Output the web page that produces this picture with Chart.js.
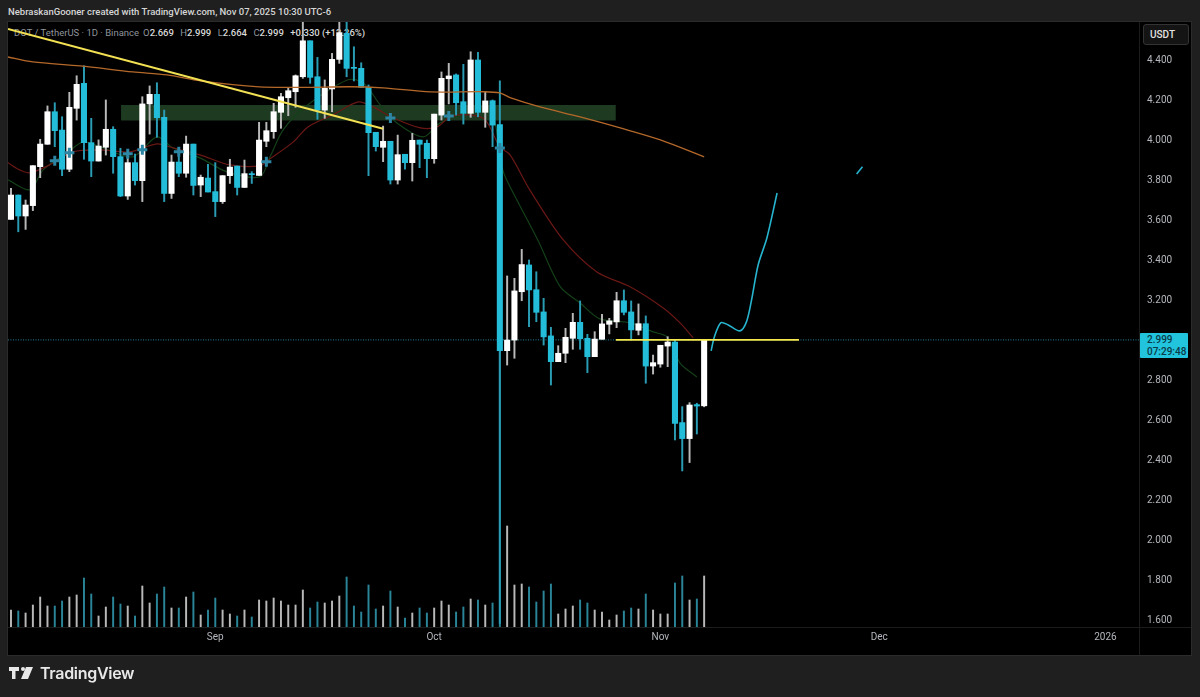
<!DOCTYPE html>
<html>
<head>
<meta charset="utf-8">
<title>DOT / TetherUS</title>
<script src="https://cdn.jsdelivr.net/npm/chart.js@4/dist/chart.umd.min.js"></script>
<style>
  html, body { margin: 0; padding: 0; background: #1f1f1f; width: 1200px; height: 697px; overflow: hidden; }
  body { position: relative; font-family: Roboto, sans-serif; }
  #frame { position: absolute; left: 8px; top: 22px; width: 1183px; height: 633px; background: #000; outline: 1px solid #2b2b2b; }
  #vline { position: absolute; left: 1139px; top: 22px; width: 1px; height: 633px; background: #1c1c1c; }
  #hline { position: absolute; left: 8px; top: 627px; width: 1183px; height: 1px; background: #1c1c1c; }
  #header { position: absolute; left: 8px; top: 3px; font-size: 9.5px; line-height: 18px; font-weight: 500; color: #d6d6d6; white-space: nowrap; }
  #legend { position: absolute; left: 14px; top: 25px; font-size: 9.5px; line-height: 16px; color: #8f949c; white-space: nowrap; }
  #legend b { color: #d8d8d8; font-weight: 500; }
  #legend span { margin-left: 4px; }
  canvas { position: absolute; left: 0; top: 0; }
  #usdt { position: absolute; left: 1143px; top: 24px; width: 46px; height: 21px; box-sizing: border-box; border: 1px solid #333; border-radius: 3px; background: #141414; color: #e2e2e2; font-size: 10px; font-weight: 500; line-height: 19px; padding-left: 6px; }
  #tag { position: absolute; left: 1140px; top: 333px; width: 48px; height: 25px; background: #22c3dc; color: #0b3a48; font-size: 10px; line-height: 11.5px; padding: 1px 0 0 7px; box-sizing: border-box; font-weight: 500; border-radius: 1px; }
  #brand { position: absolute; left: 40px; top: 661px; font-size: 16px; line-height: 25px; font-weight: 600; color: #e8e8e8; font-family: Inter, sans-serif; letter-spacing: -0.3px; }
  #logo { position: absolute; left: 9px; top: 666px; }
</style>
</head>
<body>
<div id="header">NebraskanGooner created with TradingView.com, Nov 07, 2025 10:30 UTC-6</div>
<div id="frame"></div>
<div id="vline"></div>
<div id="hline"></div>
<div id="legend">DOT / TetherUS · 1D · Binance<span>O<b>2.669</b></span> <span>H<b>2.999</b></span> <span>L<b>2.664</b></span> <span>C<b>2.999</b></span> <span><b>+0.330 (+12.36%)</b></span></div>
<canvas id="chart" width="1200" height="697"></canvas>
<div id="usdt">USDT</div>
<div id="tag">2.999<br>07:29:48</div>
<svg id="logo" width="25" height="14" viewBox="0 0 25 14">
  <path d="M0 1h10v4H6.5v8H3V5H0z" fill="#e8e8e8"/>
  <circle cx="14" cy="3" r="2" fill="#e8e8e8"/>
  <path d="M17 1h7l-5 12h-7z" fill="#e8e8e8"/>
</svg>
<div id="brand">TradingView</div>
<script>
// day index 0 = Aug 4 2025, daily candles through Nov 7
const opens = [3.602,3.724,3.619,3.671,3.866,3.978,4.141,4.049,3.853,4.158,4.283,3.986,3.894,3.963,4.053,3.916,3.719,3.886,3.796,4.180,4.228,4.113,3.732,3.889,3.833,3.979,3.774,3.809,3.741,3.691,3.821,3.869,3.762,3.831,3.822,3.993,4.041,4.138,4.211,4.241,4.316,4.496,4.316,4.149,4.255,4.403,4.533,4.361,4.358,4.263,4.038,3.963,3.993,3.799,3.928,3.886,3.999,3.983,3.906,4.124,4.306,4.325,4.191,4.133,4.400,4.138,4.196,4.076,2.945,2.998,3.240,3.374,3.250,3.139,3.019,2.890,2.932,3.007,3.087,3.007,2.915,3.002,3.077,3.089,3.195,3.139,3.047,3.080,2.868,2.878,2.968,2.988,2.585,2.505,2.675,2.669];
const closes = [3.724,3.619,3.674,3.871,3.979,4.141,4.046,3.853,4.163,4.278,3.986,3.894,3.969,4.053,3.916,3.719,3.886,3.796,4.180,4.228,4.111,3.732,3.889,3.833,3.979,3.772,3.813,3.739,3.691,3.821,3.864,3.762,3.831,3.826,3.999,4.046,4.141,4.216,4.246,4.321,4.496,4.313,4.149,4.258,4.403,4.537,4.358,4.358,4.263,4.036,3.966,3.993,3.799,3.926,3.886,3.998,3.978,3.906,4.129,4.308,4.320,4.186,4.133,4.400,4.138,4.195,4.074,2.945,2.998,3.244,3.376,3.249,3.137,3.014,2.890,2.932,3.012,3.087,3.005,2.915,3.003,3.079,3.094,3.195,3.137,3.049,3.080,2.868,2.885,2.972,2.988,2.581,2.505,2.673,2.668,2.999];
const highs = [3.757,3.724,3.699,3.871,4.003,4.170,4.186,4.116,4.238,4.321,4.371,4.108,4.000,4.200,4.066,3.958,3.924,3.929,4.216,4.270,4.286,4.149,3.924,3.958,4.019,3.979,3.824,3.878,3.886,3.821,3.903,3.869,3.899,3.841,4.088,4.088,4.183,4.233,4.258,4.325,4.592,4.496,4.413,4.300,4.433,4.592,4.592,4.466,4.386,4.275,4.038,4.069,3.993,4.024,3.928,4.033,3.999,3.999,4.129,4.340,4.383,4.330,4.378,4.441,4.438,4.241,4.200,4.295,3.319,3.307,3.452,3.399,3.340,3.207,3.062,2.970,3.057,3.132,3.194,3.027,3.040,3.127,3.107,3.237,3.249,3.194,3.179,3.119,2.923,2.972,3.015,2.998,2.665,2.685,2.682,2.999];
const lows = [3.602,3.540,3.552,3.646,3.811,3.978,3.966,3.821,3.841,4.099,3.903,3.816,3.894,3.924,3.833,3.716,3.702,3.774,3.691,4.029,4.013,3.691,3.707,3.816,3.813,3.724,3.716,3.739,3.616,3.682,3.782,3.724,3.762,3.782,3.822,3.966,4.008,4.058,4.121,4.163,4.308,4.283,4.103,4.108,4.141,4.383,4.316,4.295,4.263,3.821,3.944,3.891,3.779,3.779,3.854,3.794,3.861,3.811,3.883,4.099,4.180,4.124,4.079,4.113,4.116,4.063,3.966,1.580,2.873,2.907,3.195,3.065,3.090,2.973,2.773,2.890,2.885,2.952,2.952,2.835,2.915,3.002,3.029,3.060,3.124,2.998,3.024,2.782,2.828,2.862,2.865,2.498,2.343,2.385,2.528,2.664];
const volumes = [17,16,14,22,30,21,21,26,30,32,49,33,11,20,30,23,21,11,41,24,33,40,19,19,30,35,12,17,29,17,13,11,17,10,27,26,29,26,22,22,37,19,25,24,26,31,50,21,15,42,18,21,36,20,9,14,19,14,19,26,22,15,20,28,27,22,24,300,101,42,43,40,25,36,43,13,18,21,27,24,17,15,7,12,16,19,18,33,17,13,13,44,51,27,28,51];

const priceTicks = [1.6,1.8,2.0,2.2,2.4,2.6,2.8,3.0,3.2,3.4,3.6,3.8,4.0,4.2,4.4];
const dateTicks = [28,58,89,119,150];
const dateLabels = ["Sep","Oct","Nov","Dec","2026"];

const slowDays = [-0.41,3,9.5,16.7,21.4,26,34,40,46.5,51,57.5,64.7,67,68.5,72.5,78,83.5,89,95];
const slowMa = [4.415,4.390,4.370,4.340,4.325,4.295,4.265,4.263,4.266,4.260,4.240,4.241,4.235,4.210,4.165,4.115,4.060,4.000,3.915];
const redDays = [-0.41,1.2,2.6,5.3,8.5,12.2,16.3,20,22.2,25.9,30,34.1,35.5,38.7,40.7,44.1,47.6,49.6,52.4,56.1,58.4,60.2,62.9,65,67,68.4,71.1,75.7,80.3,84.9,89.4,91.7,93.5];
const redMa = [3.885,3.850,3.835,3.875,3.940,3.950,3.940,3.980,3.960,3.925,3.875,3.870,3.905,3.990,4.065,4.125,4.190,4.165,4.110,4.060,4.065,4.115,4.125,4.100,3.965,3.925,3.750,3.499,3.339,3.264,3.159,3.084,3.009];
const greenDays = [-0.41,2.6,4.4,7.7,9.9,12.2,16.7,20,22.2,25.9,29.6,34.1,35.5,37.3,40.3,46.1,48.3,50.6,52.9,56.5,58.8,62,65.7,67.4,68.4,72.2,75.3,78,80.7,84.9,88,89.9,91.7,94];
const greenMa = [3.800,3.750,3.850,3.935,3.990,3.965,3.915,4.015,3.960,3.910,3.840,3.815,3.915,4.050,4.165,4.300,4.285,4.175,4.085,4.015,4.085,4.125,4.140,3.850,3.765,3.499,3.264,3.184,3.104,3.084,3.039,3.014,2.883,2.813];

const projectionDays = [95.96,96.4,97.3,98.3,99.9,100.8,101.5,102.4,103.6,105];
const projection = [2.944,3.014,3.085,3.074,3.044,3.089,3.199,3.374,3.509,3.734];
const projectionTailDays = [115.9,116.7];
const projectionTail = [3.829,3.866];

const trendDays = [-0.41,51];
const trendPrices = [4.555,4.056];
const levelDays = [82.9,108];
const levelPrices = [2.999,2.999];
const lastPriceDays = [-0.41,154.6];
const lastPrices = [2.999,2.999];
const zoneDays = [15.08,82.9];
const zoneTop = [4.174,4.174];
const zoneBottom = 4.097;

const crossDays = [6,8,16,18,23,35,52,60,67];
const crossPrices = [3.895,3.935,3.93,3.95,3.94,3.89,4.11,4.12,3.96];

const UP = "#ffffff";
const DOWN = "#24bdd9";

function pts(xs, ys) {
  return xs.map((x, i) => ({ x: x, y: ys[i] }));
}

function lineSet(xs, ys, color, width, extra) {
  return Object.assign({
    type: "line",
    data: pts(xs, ys),
    borderColor: color,
    borderWidth: width,
    pointRadius: 0,
    tension: 0.3,
    fill: false,
    order: 2,
  }, extra || {});
}

const dayIdx = opens.map((_, i) => i);
const isUp = (i) => closes[i] >= opens[i];

const datasets = [
  lineSet(zoneDays, zoneTop, "rgba(0,0,0,0)", 0, { fill: { value: zoneBottom }, backgroundColor: "#1e3b21", tension: 0, order: 10 }),
  lineSet(redDays, redMa, "#6a1815", 1.2, { order: 8 }),
  lineSet(greenDays, greenMa, "#144018", 1.2, { order: 8 }),
  lineSet(lastPriceDays, lastPrices, "#1f7f95", 1, { tension: 0, borderDash: [1, 1.5], order: 9 }),
  {
    type: "bar",
    data: dayIdx.map((i) => ({ x: i, y: volumes[i] })),
    yAxisID: "vol",
    barThickness: 1.3,
    grouped: false,
    backgroundColor: dayIdx.map((i) => (isUp(i) ? "rgba(255,255,255,0.72)" : "#2a8598")),
    order: 7,
  },
  {
    type: "bar",
    data: dayIdx.map((i) => ({ x: i, y: [lows[i], highs[i]] })),
    barThickness: 1.3,
    grouped: false,
    backgroundColor: dayIdx.map((i) => (isUp(i) ? "#b9b9b9" : "#2a9db5")),
    order: 6,
  },
  {
    type: "bar",
    data: dayIdx.map((i) => ({ x: i, y: [opens[i], closes[i]] })),
    barThickness: 5.4,
    grouped: false,
    minBarLength: 1,
    backgroundColor: dayIdx.map((i) => (isUp(i) ? UP : DOWN)),
    order: 5,
  },
  {
    type: "scatter",
    data: pts(crossDays, crossPrices),
    pointStyle: "cross",
    pointRadius: 5,
    pointBorderWidth: 3,
    pointBorderColor: "#2c86a4",
    order: 4,
  },
  lineSet(slowDays, slowMa, "#b4682a", 1.3, { order: 3 }),
  lineSet(trendDays, trendPrices, "#f3e154", 2, { tension: 0, order: 1 }),
  lineSet(levelDays, levelPrices, "#f5e94f", 1.6, { tension: 0, order: 1 }),
  lineSet(projectionDays, projection, "#26b4cf", 1.6, { order: 1 }),
  lineSet(projectionTailDays, projectionTail, "#26b4cf", 1.6, { tension: 0, order: 1 }),
];

new Chart(document.getElementById("chart"), {
  type: "bar",
  data: { datasets: datasets },
  options: {
    responsive: false,
    animation: false,
    devicePixelRatio: 1,
    layout: { padding: { left: 8, top: 22, right: 9, bottom: 42 } },
    plugins: { legend: { display: false }, tooltip: { enabled: false } },
    scales: {
      x: {
        type: "linear",
        offset: false,
        min: -0.41,
        max: 154.6,
        grid: { display: false, drawTicks: false },
        border: { display: false },
        afterBuildTicks: (axis) => { axis.ticks = dateTicks.map((v) => ({ value: v })); },
        afterFit: (axis) => { axis.height = 28; },
        ticks: {
          autoSkip: false,
          maxRotation: 0,
          padding: 4,
          color: "#b4b7bd",
          font: { size: 10, family: "Roboto" },
          callback: (v) => dateLabels[dateTicks.indexOf(v)],
        },
      },
      y: {
        position: "right",
        min: 1.562,
        max: 4.59,
        grid: { display: false, drawTicks: false },
        border: { display: false },
        afterBuildTicks: (axis) => { axis.ticks = priceTicks.map((v) => ({ value: v })); },
        afterFit: (axis) => { axis.width = 52; },
        ticks: {
          padding: 8,
          labelOffset: 1,
          color: "#b4b7bd",
          font: { size: 10, family: "Roboto" },
          callback: (v) => v.toFixed(3),
        },
      },
      vol: { display: false, min: 0, max: 605 },
    },
  },
});
</script>
</body>
</html>
